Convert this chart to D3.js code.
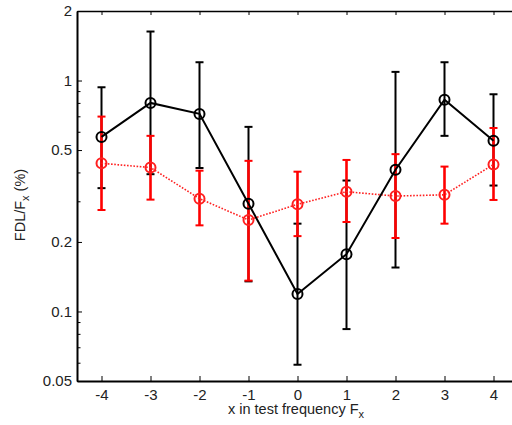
<!DOCTYPE html>
<html>
<head>
<meta charset="utf-8">
<script src="https://cdn.jsdelivr.net/npm/d3@7"></script>
<style>
  body { margin: 0; background: #fff; }
  svg { display: block; font-family: "Liberation Sans", Arial, sans-serif; }
  .axis path, .axis line { stroke: #000; }
  .axis text { font-size: 15px; fill: #222; font-family: "Liberation Sans", Arial, sans-serif; }
</style>
</head>
<body>
<div id="chart"></div>
<script>
// data
var xs = [-4, -3, -2, -1, 0, 1, 2, 3, 4];

var blackMean = [0.570, 0.800, 0.717, 0.293, 0.119, 0.177, 0.411, 0.826, 0.549];
var blackHigh = [0.935, 1.63, 1.20, 0.630, 0.240, 0.369, 1.09, 1.20, 0.872];
var blackLow  = [0.342, 0.393, 0.418, 0.135, 0.0588, 0.0839, 0.155, 0.576, 0.351];

var redMean = [0.438, 0.420, 0.308, 0.249, 0.291, 0.330, 0.316, 0.320, 0.433];
var redHigh = [0.698, 0.576, 0.407, 0.449, 0.403, 0.453, 0.480, 0.424, 0.623];
var redLow  = [0.275, 0.305, 0.236, 0.136, 0.212, 0.244, 0.208, 0.240, 0.304];

var yMajor = [0.05, 0.1, 0.2, 0.5, 1, 2];
var yMinor = [0.06, 0.07, 0.08, 0.09, 0.3, 0.4, 0.6, 0.7, 0.8, 0.9];

var width = 512, height = 425;
var plot = { left: 77, top: 11, bottom: 381, right: 518 };

var svg = d3.select('#chart').append('svg')
    .attr('width', width)
    .attr('height', height);

var x = d3.scaleLinear().domain([-4.5, 4.5]).range([plot.left, plot.right]);
var y = d3.scaleLog().domain([0.05, 2]).range([plot.bottom, plot.top]);

function series(mean, high, low){
    return xs.map(function(v, i){
        return { x: v, m: mean[i], hi: high[i], lo: low[i] };
    });
}
var black = series(blackMean, blackHigh, blackLow);
var red = series(redMean, redHigh, redLow);

var fmt = function(d){ return String(d); };

// y axis, major and minor ticks pointing inwards
svg.append('g').attr('class', 'axis')
    .attr('transform', 'translate(' + plot.left + ',0)')
    .call(d3.axisLeft(y).tickValues(yMajor).tickFormat(fmt).tickSize(-5).tickPadding(5).tickSizeOuter(0))
    .call(function(g){ g.select('.domain').attr('stroke-width', 2); });

svg.append('g').attr('class', 'axis')
    .attr('transform', 'translate(' + plot.left + ',0)')
    .call(d3.axisLeft(y).tickValues(yMinor).tickFormat('').tickSize(-3.5))
    .call(function(g){ g.select('.domain').remove(); });

// x axis bottom
svg.append('g').attr('class', 'axis')
    .attr('transform', 'translate(0,' + plot.bottom + ')')
    .call(d3.axisBottom(x).tickValues(xs).tickFormat(fmt).tickSize(-5).tickPadding(8).tickSizeOuter(0))
    .call(function(g){ g.select('.domain').attr('stroke-width', 2); });

// top border with ticks
svg.append('g').attr('class', 'axis')
    .attr('transform', 'translate(0,' + plot.top + ')')
    .call(d3.axisTop(x).tickValues(xs).tickFormat('').tickSize(-4).tickSizeOuter(0))
    .call(function(g){ g.select('.domain').attr('stroke-width', 1.5); });

var capW = 4;

function drawBars(data, color, w){
    var g = svg.append('g');
    g.selectAll('.stem').data(data).enter().append('line')
        .attr('x1', function(d){ return x(d.x); })
        .attr('x2', function(d){ return x(d.x); })
        .attr('y1', function(d){ return y(d.hi); })
        .attr('y2', function(d){ return y(d.lo); })
        .attr('stroke', color).attr('stroke-width', w);
    ['hi', 'lo'].forEach(function(k){
        g.selectAll('.cap' + k).data(data).enter().append('line')
            .attr('x1', function(d){ return x(d.x) - capW; })
            .attr('x2', function(d){ return x(d.x) + capW; })
            .attr('y1', function(d){ return y(d[k]); })
            .attr('y2', function(d){ return y(d[k]); })
            .attr('stroke', color).attr('stroke-width', 2);
    });
}

function drawLine(data, color, w, dash){
    var line = d3.line()
        .x(function(d){ return x(d.x); })
        .y(function(d){ return y(d.m); });
    svg.append('path').datum(data)
        .attr('d', line)
        .attr('fill', 'none')
        .attr('stroke', color)
        .attr('stroke-width', w)
        .attr('stroke-dasharray', dash);
    svg.append('g').selectAll('circle').data(data).enter().append('circle')
        .attr('cx', function(d){ return x(d.x); })
        .attr('cy', function(d){ return y(d.m); })
        .attr('r', 5)
        .attr('fill', 'none')
        .attr('stroke', color)
        .attr('stroke-width', 2);
}

drawBars(black, '#000', 2);
drawBars(red, '#ff0000', 2.6);
drawLine(red, '#ff2020', 1.6, '1.6,1.6');
drawLine(black, '#000', 2, null);

// axis titles
svg.append('text')
    .attr('x', 296).attr('y', 414)
    .attr('text-anchor', 'middle')
    .attr('font-size', 14.5).attr('fill', '#222')
    .html('x in test frequency F<tspan dy="4" font-size="11">x</tspan>');

svg.append('text')
    .attr('transform', 'translate(25,205) rotate(-90)')
    .attr('text-anchor', 'middle')
    .attr('font-size', 14.5).attr('fill', '#222')
    .html('FDL/F<tspan dy="4" font-size="11">x</tspan><tspan dy="-4"> (%)</tspan>');
</script>
</body>
</html>
